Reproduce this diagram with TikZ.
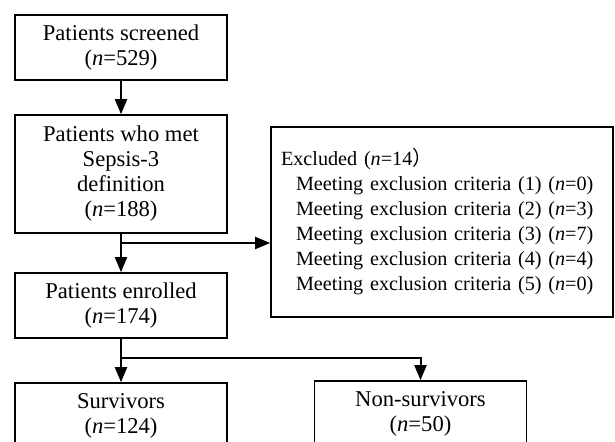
\documentclass[tikz,border=0pt]{standalone}
\usepackage{fontspec}
\setmainfont{Liberation Serif}
\newfontfamily\cjk{Noto Sans CJK SC}
\usetikzlibrary{arrows.meta}
\tikzset{box/.style={draw, line width=0.8pt, minimum width=106pt, minimum height=32.5pt, inner sep=0pt, align=center, font=\fontsize{11.3}{12.5}\selectfont},
  excl/.style={draw, line width=0.8pt, minimum width=171pt, minimum height=95pt, inner xsep=5pt, inner ysep=0pt, text width=161pt, align=left, font=\fontsize{10.1}{12.5}\selectfont},
  arr/.style={line width=1pt, -{Triangle[length=7.5pt,width=6pt]}}}

\begin{document}
\begin{tikzpicture}[x=0.5pt,y=-0.5pt]
   \useasboundingbox (0,0) rectangle (615,441);
   \clip (0,0) rectangle (615,441);
    \node[box] (screen) at (121,47.5) {Patients screened\\(\textit{n}=529)};
    \node[box, minimum height=59pt] (sepsis) at (121,174) {Patients who met\\Sepsis-3\\definition\\(\textit{n}=188)};
    \node[box] (enrol) at (121,305.5) {Patients enrolled\\(\textit{n}=174)};
    \node[excl] (excl) at (442,222) {Excluded (\textit{n}=14{\cjk ）}\\
     \hspace*{7.5pt}Meeting exclusion criteria (1) (\textit{n}=0)\\
     \hspace*{7.5pt}Meeting exclusion criteria (2) (\textit{n}=3)\\
     \hspace*{7.5pt}Meeting exclusion criteria (3) (\textit{n}=7)\\
     \hspace*{7.5pt}Meeting exclusion criteria (4) (\textit{n}=4)\\
     \hspace*{7.5pt}Meeting exclusion criteria (5) (\textit{n}=0)};
    \node[box] (surv) at (121,415.5) {Survivors\\(\textit{n}=124)};
    \node[box] (nonsurv) at (420.5,413.5) {Non-survivors\\(\textit{n}=50)};
    \coordinate (fork1) at (121,243);
    \coordinate (fork2) at (121,358);
    \draw[arr] (screen) -- (sepsis);
    \draw[arr] (sepsis) -- (enrol);
    \draw[arr] (fork1) -- (fork1 -| excl.west);
    \draw[arr] (enrol) -- (surv);
    \draw[arr] (fork2) -| (nonsurv);
  \end{tikzpicture}
\end{document}
